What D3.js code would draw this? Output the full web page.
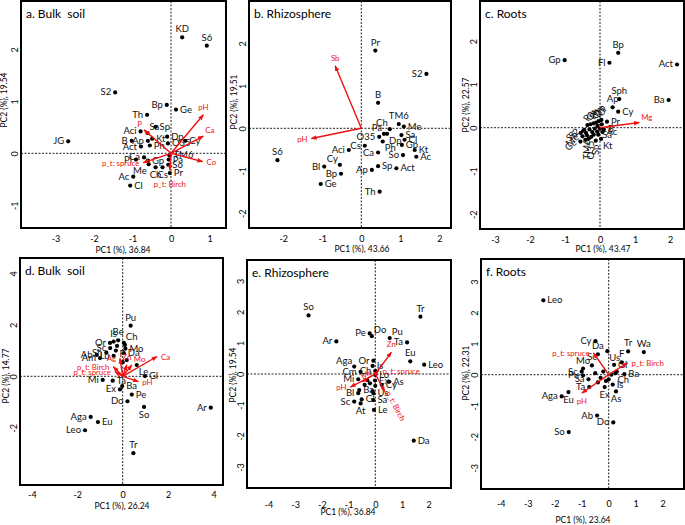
<!DOCTYPE html>
<html>
<head>
<meta charset="utf-8">
<script src="https://cdn.jsdelivr.net/npm/d3@7"></script>
<style>
body { margin: 0; background: #fff; }
svg { display: block; }
</style>
</head>
<body>
<svg id="chart" width="685" height="525"></svg>
<script>
// ---------- data (PC1, PC2 scores) ----------
// a. bulk soil, bacteria
var aNames = ["KD","S6","S2","JG","Bp","Ge","Th","Sp","Aci","Sa","Dp","Kt","Ap","B","Cy","O35","Act","Ph","Pl","Ca","Gp","TM6","Pa","So","Me","Ch","Cs","Pr","Ac","Cl"];
var aPC1 = [0.29,0.93,-1.45,-2.67,-0.11,0.13,-0.62,-0.40,-0.79,-0.61,-0.10,-0.49,-0.60,-1.02,0.37,-0.08,-0.78,-0.55,-0.91,-0.70,-0.60,-0.04,-0.06,-0.07,-0.58,-0.40,-0.22,-0.03,-0.98,-1.06];
var aPC2 = [2.23,2.07,1.17,0.23,0.93,0.84,0.74,0.51,0.42,0.39,0.32,0.28,0.24,0.24,0.24,0.19,0.13,0.15,-0.12,-0.08,-0.14,-0.04,-0.12,-0.22,-0.21,-0.27,-0.27,-0.38,-0.45,-0.62];
var aVars = ["pH","Ca","Co","P","p_t: spruce","p_t: Birch"];
var aVarPC1 = [0.84,0.84,0.82,-0.70,-0.72,-0.03];
var aVarPC2 = [0.74,0.33,-0.16,0.45,-0.18,-0.32];

// b. rhizosphere, bacteria
var bNames = ["Pr","S2","B","TM6","Me","Ch","Pa","O35","Dp","Sa","Cl","Gp","Kt","Ac","Ph","Ca","So","Cs","Aci","Cy","Bl","Bp","Ge","S6","Ap","Sp","Act","Th"];
var bPC1 = [0.36,1.67,0.43,0.96,1.09,0.73,0.58,0.46,0.66,1.03,1.11,1.04,1.37,1.41,0.55,0.43,1.07,0.09,-0.32,-0.55,-0.95,-0.52,-1.04,-2.15,0.27,0.43,0.90,0.47];
var bPC2 = [1.83,1.28,0.60,0.10,0.04,-0.02,-0.13,-0.20,-0.13,-0.16,-0.27,-0.39,-0.51,-0.67,-0.31,-0.57,-0.63,-0.41,-0.51,-0.86,-0.90,-1.07,-1.31,-0.75,-0.98,-0.89,-0.94,-1.49];
var bVars = ["Sb","pH"];
var bVarPC1 = [-0.67,-1.28];
var bVarPC2 = [1.47,-0.24];

// c. roots, bacteria
var cNames = ["Bp","Gp","Fl","Act","Sph","Ap","Cy","Ba","Pr","Pa","Ca","Ph","Ch","Dp","Cl","S6","S2","Me","Ge","TM6","O35","Sp","Sa","Kt","Ac","B","","","","","","","","","","","",""];
var cPC1 = [0.52,-1.01,0.27,2.20,0.55,0.36,0.52,1.96,0.20,-0.36,-0.27,-0.18,-0.11,-0.04,0.04,-0.55,-0.48,-0.50,-0.56,-0.37,-0.25,-0.12,-0.05,0.03,0.07,0.11,-0.45,-0.40,-0.30,-0.22,-0.15,-0.07,-0.32,-0.18,-0.08,0.00,-0.42,0.05];
var cPC2 = [1.73,1.56,1.50,1.46,0.66,0.47,0.37,0.64,0.14,0.06,0.08,0.10,0.12,0.15,0.18,-0.12,-0.07,-0.20,-0.32,-0.18,-0.21,-0.30,-0.16,-0.26,-0.10,-0.04,-0.05,-0.12,-0.04,-0.10,-0.02,0.04,-0.25,-0.16,-0.09,-0.02,-0.28,0.08];
var cVars = ["Mg"];
var cVarPC1 = [1.12];
var cVarPC2 = [0.12];

// d. bulk soil, fungi
var dNames = ["Pu","Or","Is","Be","Ch","Sc","Sh","Mo","Da","Lu","F","Ab","Am","Le","Gl","Mi","Ta","Ex","Ba","Pe","Do","So","Ar","Aga","Eu","Leo","Tr","","","",""];
var dPC1 = [0.35,-0.56,-0.40,-0.20,0.05,-0.55,-0.72,0.12,0.05,-0.40,0.18,-1.15,-1.00,0.62,0.98,-0.88,-0.44,-0.12,-0.02,0.40,0.21,0.94,3.88,-1.41,-1.09,-1.66,0.47,-0.25,-0.30,0.00,0.10];
var dPC2 = [1.97,1.30,1.35,1.40,1.30,1.10,0.92,1.08,0.90,0.80,0.63,0.83,0.71,0.44,0.01,-0.14,-0.17,-0.51,-0.38,-0.71,-0.97,-1.19,-1.22,-1.58,-1.78,-2.10,-2.99,1.18,1.00,0.55,1.22];
var dVars = ["Ca","pH","Mo","Zn","Ag","p_t: Birch","p_t: spruce"];
var dVarPC1 = [1.51,0.69,0.40,0.18,-0.12,-0.41,-0.34];
var dVarPC2 = [0.77,-0.21,0.44,0.44,0.70,0.37,0.18];

// e. rhizosphere, fungi
var eNames = ["So","Tr","Do","Pe","Pu","Ta","Ar","Eu","Leo","Or","Is","Aga","Cm","Ch","Lo","Mi","As","Ex","Cy","Ba","Bl","Us","Sc","Gl","At","Sa","Le","Da","","","","",""];
var ePC1 = [-2.50,1.69,-0.13,-0.21,0.54,1.19,-1.46,1.31,1.83,-0.07,-0.10,-0.79,-0.55,0.00,0.00,-0.64,0.52,-0.01,0.24,-0.60,-0.64,-0.07,-0.79,-0.51,-0.55,-0.07,-0.05,1.44,-0.30,-0.20,0.00,-0.10,-0.40];
var ePC2 = [1.89,1.85,1.22,1.31,1.16,1.02,1.05,0.41,0.30,0.43,0.26,0.24,0.07,0.10,-0.03,-0.17,-0.25,-0.21,-0.35,-0.52,-0.62,-0.62,-0.89,-0.82,-0.95,-0.84,-1.16,-2.15,-0.20,-0.30,-0.38,-0.55,-0.35];
var eVars = ["Zn","p_t: spruce","p_t: Birch","pH","Mo"];
var eVarPC1 = [0.60,0.12,0.35,-0.93,-0.50];
var eVarPC2 = [0.70,0.11,-0.56,-0.42,-0.25];

// f. roots, fungi
var fNames = ["Leo","Cy","Tr","Wa","Da","Us","F","Gl","Mo","Sc","Sc","Pu","Sa","Ta","Ex","Is","As","Ch","Ba","Eu","Aga","Ab","Do","So","","","","","","","",""];
var fPC1 = [-2.42,-0.49,0.72,1.30,-0.40,-0.05,0.48,0.20,-0.95,-0.62,-1.00,-0.95,-0.75,-0.72,-0.15,0.15,0.27,0.25,0.58,-1.49,-1.74,-0.43,0.17,-1.48,-0.50,-0.30,-0.20,0.10,-0.10,0.30,-0.40,0.00];
var fPC2 = [2.40,1.08,0.75,0.73,0.66,0.76,0.40,0.32,0.20,0.30,0.10,-0.02,-0.15,-0.40,-0.40,-0.32,-0.54,0.05,0.02,-0.56,-0.70,-1.32,-1.54,-1.85,0.05,-0.10,0.10,0.00,-0.20,0.10,-0.25,-0.15];
var fVars = ["p_t: spruce","p_t: Birch","pH"];
var fVarPC1 = [-0.56,0.70,-0.99];
var fVarPC2 = [0.70,0.38,-0.59];

// axis texts and ticks
var titles = ["a. Bulk  soil","b. Rhizosphere","c. Roots","d. Bulk  soil","e. Rhizosphere","f. Roots"];
var pc1Pct = ["36.84","43.66","43.47","26.24","36.84","23.64"];
var pc2Pct = ["19.54","19.51","22.57","14.77","19.54","22.31"];
var ticksX = [[-3,-2,-1,0,1],[-2,-1,0,1,2],[-3,-2,-1,0,1,2],[-4,-2,0,2,4],[-4,-3,-2,-1,0,1,2],[-4,-3,-2,-1,0,1,2]];
var ticksY = [[-1,0,1,2],[-2,-1,0,1,2],[-2,-1,0,1,2],[-2,0,2,4],[-3,-2,-1,0,1,2,3],[-3,-2,-1,0,1,2,3]];

// ---------- layout ----------
// label side per point: r l t b tr tl br bl, u/d/v = rotated labels
var aSide = "t t l l l r l r l tr r r l l r r l r l l r r r r bl b b r l r".split(" ");
var bSide = "t l t t r tl tl l br r r r r r br l l l l tl l l r t l r r l".split(" ");
var cSide = "t l l l t t r l r u u u u u u d d d d v v v r br r r".split(" ");
var dSide = "t l t t tr l l r r l tl l l br r l r l r r l b l l r l t".split(" ");
var eSide = "t t tr l tr l l t r l r tl l l r l r r r r l r l r b r r r".split(" ");
var fSide = "r l t t t br t r t t l l l l b r b br r b l l l l".split(" ");
var aVarSide = ["t","tr","r","tl","l","b2"];
var bVarSide = ["t","l"];
var cVarSide = ["tr"];
var dVarSide = ["r","r","tr","t","l","l","l"];
var eVarSide = ["t","r","a","l","m"];
var fVarSide = ["l","r","b"];

var panels = [
  {names:aNames, pc1:aPC1, pc2:aPC2, vars:aVars, v1:aVarPC1, v2:aVarPC2, side:aSide, vside:aVarSide,
   box:[21,1,226,228], zero:[171,153.3], unit:[38.5,52], xPad:8, xt:[123,253], yt:[4,100]},
  {names:bNames, pc1:bPC1, pc2:bPC2, vars:bVars, v1:bVarPC1, v2:bVarPC2, side:bSide, vside:bVarSide,
   box:[249,1,451,228], zero:[361.3,128.3], unit:[39,42.5], xPad:8, xt:[362,252], yt:[234,102]},
  {names:cNames, pc1:cPC1, pc2:cPC2, vars:cVars, v1:cVarPC1, v2:cVarPC2, side:cSide, vside:cVarSide,
   box:[480,1,684,229], zero:[600,127.7], unit:[35,43.3], xPad:8, xt:[603,252], yt:[466,105]},
  {names:dNames, pc1:dPC1, pc2:dPC2, vars:dVars, v1:dVarPC1, v2:dVarPC2, side:dSide, vside:dVarSide,
   box:[20,258,223,485], zero:[122.7,376.3], unit:[22.7,25.7], xPad:7, xt:[122,509], yt:[6,376]},
  {names:eNames, pc1:ePC1, pc2:ePC2, vars:eVars, v1:eVarPC1, v2:eVarPC2, side:eSide, vside:eVarSide,
   box:[247,260,451,488], zero:[375.3,374], unit:[26.7,31], xPad:14, xt:[348,515], yt:[233,375]},
  {names:fNames, pc1:fPC1, pc2:fPC2, vars:fVars, v1:fVarPC1, v2:fVarPC2, side:fSide, vside:fVarSide,
   box:[481,259,684,489], zero:[608.7,374.7], unit:[27,31], xPad:12, xt:[583,523], yt:[466,373]}
];

var OFF = {
  r:[4,3,"start",0], l:[-4,3,"end",0], t:[0,-5,"middle",0], b:[0,11,"middle",0], b2:[0,17,"middle",0],
  tr:[2,-3,"start",0], tl:[-2,-3,"end",0], br:[2,10,"start",0], bl:[-2,10,"end",0],
  u:[1,-3,"start",-60], d:[-3,2,"end",-40], v:[3,4,"end",-90]
};

var FONT = "Lato, 'Open Sans', sans-serif";
var RED = "#ee1111";
var svg = d3.select("#chart");

svg.append("defs").append("marker")
  .attr("id", "head")
  .attr("viewBox", "0 0 8 6")
  .attr("refX", 7).attr("refY", 3)
  .attr("markerWidth", 6).attr("markerHeight", 5)
  .attr("markerUnits", "userSpaceOnUse")
  .attr("orient", "auto")
  .append("path").attr("d", "M0,0L8,3L0,6Z").attr("fill", RED);

function place(sel, code, px, py) {
  var o = OFF[code] || OFF.r;
  sel.attr("text-anchor", o[2])
    .attr("transform", "translate(" + (px + o[0]) + "," + (py + o[1]) + ")" + (o[3] ? " rotate(" + o[3] + ")" : ""));
}

panels.forEach(function (p, i) {
  var x0 = p.box[0], y0 = p.box[1], x1 = p.box[2], y1 = p.box[3];
  var x = d3.scaleLinear()
    .domain([(x0 - p.zero[0]) / p.unit[0], (x1 - p.zero[0]) / p.unit[0]])
    .range([x0, x1]);
  var y = d3.scaleLinear()
    .domain([(p.zero[1] - y1) / p.unit[1], (p.zero[1] - y0) / p.unit[1]])
    .range([y1, y0]);
  var g = svg.append("g");

  // dashed zero lines
  g.append("line").attr("x1", x(0)).attr("x2", x(0)).attr("y1", y0).attr("y2", y1);
  g.append("line").attr("x1", x0).attr("x2", x1).attr("y1", y(0)).attr("y2", y(0));
  g.selectAll("line").attr("stroke", "#222").attr("stroke-width", 1).attr("stroke-dasharray", "2,1.5");

  // axes
  var xa = g.append("g").attr("transform", "translate(0," + y1 + ")")
    .call(d3.axisBottom(x).tickValues(ticksX[i]).tickSize(0).tickPadding(p.xPad).tickFormat(String));
  xa.select(".domain").remove();
  xa.attr("font-size", 9).attr("font-family", FONT);
  xa.selectAll("text").attr("fill", "#000");

  var ya = g.append("g").attr("transform", "translate(" + x0 + ",0)")
    .call(d3.axisLeft(y).tickValues(ticksY[i]).tickSize(0).tickFormat(String));
  ya.select(".domain").remove();
  ya.attr("font-size", 9).attr("font-family", FONT);
  ya.selectAll("text").attr("x", null).attr("dy", null).attr("fill", "#000")
    .attr("text-anchor", "middle").attr("transform", "translate(-3,0) rotate(-90)");

  g.append("text").attr("x", p.xt[0]).attr("y", p.xt[1])
    .attr("text-anchor", "middle").attr("font-size", 8.5).attr("font-family", FONT)
    .text("PC1 (%), " + pc1Pct[i]);
  g.append("text").attr("transform", "translate(" + (p.yt[0] + 3) + "," + p.yt[1] + ") rotate(-90)")
    .attr("text-anchor", "middle").attr("font-size", 8.5).attr("font-family", FONT)
    .text("PC2 (%), " + pc2Pct[i]);

  // sample points
  var idx = d3.range(p.names.length);
  g.selectAll("circle").data(idx).enter().append("circle")
    .attr("cx", function (k) { return x(p.pc1[k]); })
    .attr("cy", function (k) { return y(p.pc2[k]); })
    .attr("r", 2.1).attr("fill", "#000");
  g.selectAll("text.pt").data(idx.filter(function (k) { return p.names[k]; })).enter().append("text")
    .attr("class", "pt").attr("font-size", 9.5).attr("font-family", FONT).attr("fill", "#111")
    .text(function (k) { return p.names[k]; })
    .each(function (k) { place(d3.select(this), p.side[k], x(p.pc1[k]), y(p.pc2[k])); });

  // environmental vectors
  var vi = d3.range(p.vars.length);
  g.selectAll("line.vec").data(vi).enter().append("line")
    .attr("class", "vec")
    .attr("x1", x(0)).attr("y1", y(0))
    .attr("x2", function (k) { return x(p.v1[k]); })
    .attr("y2", function (k) { return y(p.v2[k]); })
    .attr("stroke", RED).attr("stroke-width", 1.4)
    .attr("marker-end", "url(#head)");
  g.selectAll("text.vec").data(vi).enter().append("text")
    .attr("class", "vec").attr("font-size", 7.8).attr("font-family", FONT).attr("fill", RED)
    .text(function (k) { return p.vars[k]; })
    .each(function (k) {
      var hx = x(p.v1[k]), hy = y(p.v2[k]), code = p.vside[k];
      var ang = Math.atan2(hy - y(0), hx - x(0)) * 180 / Math.PI;
      var t = d3.select(this);
      if (code === "a") {
        t.attr("text-anchor", "start").attr("x", 2)
          .attr("transform", "translate(" + hx + "," + hy + ") rotate(" + ang + ")");
      } else if (code === "m") {
        if (ang > 90) ang -= 180;
        if (ang < -90) ang += 180;
        t.attr("text-anchor", "middle").attr("dy", -1.5)
          .attr("transform", "translate(" + (hx + x(0)) / 2 + "," + (hy + y(0)) / 2 + ") rotate(" + ang + ")");
      } else {
        place(t, code, hx, hy);
      }
    });

  // panel title and frame
  g.append("text").attr("x", x0 + 5).attr("y", y0 + 17)
    .attr("font-size", 12).attr("font-family", FONT).attr("fill", "#000")
    .attr("xml:space", "preserve").style("white-space", "pre")
    .text(titles[i]);
  g.append("rect").attr("x", x0).attr("y", y0).attr("width", x1 - x0).attr("height", y1 - y0)
    .attr("fill", "none").attr("stroke", "#000").attr("stroke-width", 2);
});
</script>
</body>
</html>
